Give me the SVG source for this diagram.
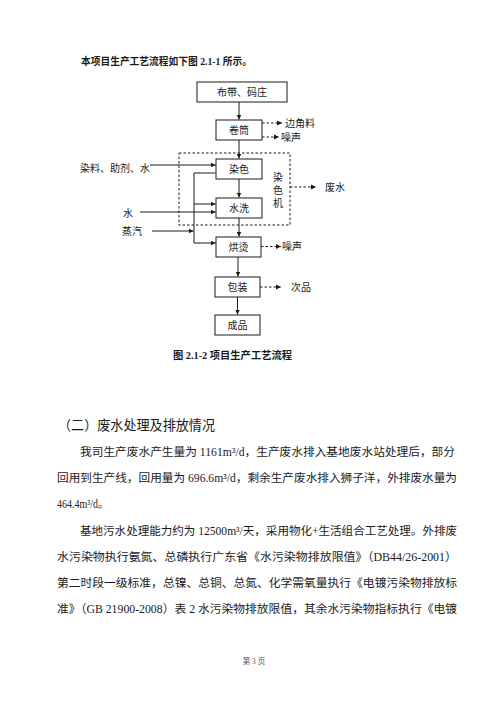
<svg xmlns="http://www.w3.org/2000/svg" width="500" height="707" viewBox="0 0 500 707">
<defs>
<marker id="ah" markerWidth="6" markerHeight="6" refX="5" refY="3" orient="auto" markerUnits="userSpaceOnUse">
<path d="M0,0.5 L5,3 L0,5.5 Z" fill="#1a1a1a"/>
</marker>
<style>
.bx{fill:#fff;stroke:#1a1a1a;stroke-width:1}
.t{font-family:"Liberation Serif","Noto Sans CJK SC",serif;fill:#1a1a1a}
.nt{font-size:10px;text-anchor:middle}
.lb{font-size:10px}
.ln{stroke:#1a1a1a;stroke-width:1;fill:none}
.da{stroke:#1a1a1a;stroke-width:1;fill:none;stroke-dasharray:2.5,2}
.body{font-family:"Liberation Serif","Noto Sans CJK SC",serif;font-size:11.6px;fill:#1a1a1a}
</style>
</defs>
<rect width="500" height="707" fill="#fff"/>

<text class="t" x="81" y="64.5" font-size="10" font-weight="bold" textLength="171" lengthAdjust="spacingAndGlyphs">本项目生产工艺流程如下图 2.1-1 所示。</text>

<g id="connectors">
<path class="ln" d="M239,102 V119.5" marker-end="url(#ah)"/>
<path class="ln" d="M239,140 V158.5" marker-end="url(#ah)"/>
<path class="ln" d="M239,179 V197.5" marker-end="url(#ah)"/>
<path class="ln" d="M239,218 V236.5" marker-end="url(#ah)"/>
<path class="ln" d="M238,257 V276.5" marker-end="url(#ah)"/>
<path class="ln" d="M237.5,297 V314.5" marker-end="url(#ah)"/>
<path class="ln" d="M150,165 H215.5" marker-end="url(#ah)"/>
<path class="ln" d="M140,212 H215.5" marker-end="url(#ah)"/>
<path class="ln" d="M152,231 H193.5" marker-end="url(#ah)"/>
<path class="ln" d="M215.5,173 H194 V243 H215.5" marker-end="url(#ah)"/>
<path class="ln" d="M194,204 H215.5" marker-end="url(#ah)"/>
<path class="da" d="M262,123 H282" marker-end="url(#ah)"/>
<path class="da" d="M262,137 H279" marker-end="url(#ah)"/>
<path class="da" d="M290,187 H316" marker-end="url(#ah)"/>
<path class="da" d="M261,246.5 H281" marker-end="url(#ah)"/>
<path class="da" d="M260,287 H281" marker-end="url(#ah)"/>
</g>

<g id="dyeing-machine">
<rect x="179" y="153" width="111" height="72" class="da"/>
<text class="t nt" x="278" y="180.5">染</text>
<text class="t nt" x="278" y="193.5">色</text>
<text class="t nt" x="278" y="206.5">机</text>
</g>

<g id="n-budai"><rect class="bx" x="197" y="82" width="90" height="20"/><text class="t nt" x="242" y="95.5">布带、码庄</text></g>
<g id="n-juantong"><rect class="bx" x="216" y="120" width="46" height="20"/><text class="t nt" x="239" y="133.5">卷筒</text></g>
<g id="n-ranse"><rect class="bx" x="216" y="159" width="46" height="20"/><text class="t nt" x="239" y="172.5">染色</text></g>
<g id="n-shuixi"><rect class="bx" x="216" y="198" width="46" height="20"/><text class="t nt" x="239" y="211.5">水洗</text></g>
<g id="n-hongtang"><rect class="bx" x="216" y="237" width="45" height="20"/><text class="t nt" x="238.5" y="250.5">烘烫</text></g>
<g id="n-baozhuang"><rect class="bx" x="215" y="277" width="45" height="20"/><text class="t nt" x="237.5" y="290.5">包装</text></g>
<g id="n-chengpin"><rect class="bx" x="215" y="315" width="45" height="20"/><text class="t nt" x="237.5" y="328.5">成品</text></g>

<g id="in-ranliao"><text class="t lb" x="150" y="172" text-anchor="end">染料、助剂、水</text></g>
<g id="in-shui"><text class="t lb" x="128" y="216.5" text-anchor="middle">水</text></g>
<g id="in-zhengqi"><text class="t lb" x="132" y="234.5" text-anchor="middle">蒸汽</text></g>
<g id="out-bianjiao"><text class="t lb" x="285" y="126.5">边角料</text></g>
<g id="out-zaosheng1"><text class="t lb" x="281" y="140.5">噪声</text></g>
<g id="out-feishui"><text class="t lb" x="325" y="190.5">废水</text></g>
<g id="out-zaosheng2"><text class="t lb" x="282" y="250">噪声</text></g>
<g id="out-cipin"><text class="t lb" x="291" y="290.5">次品</text></g>

<text class="t" x="173" y="358.5" font-size="10" font-weight="bold" textLength="119" lengthAdjust="spacingAndGlyphs">图 2.1-2  项目生产工艺流程</text>

<text x="58" y="430" font-family="'Noto Sans CJK SC','Noto Sans',sans-serif" font-size="13.5" fill="#1a1a1a" textLength="157" lengthAdjust="spacingAndGlyphs">（二）废水处理及排放情况</text>

<text class="body" x="80" y="456" textLength="375" lengthAdjust="spacingAndGlyphs">我司生产废水产生量为 1161m³/d，生产废水排入基地废水站处理后，部分</text>
<text class="body" x="57" y="482" textLength="400" lengthAdjust="spacingAndGlyphs">回用到生产线，回用量为 696.6m³/d，剩余生产废水排入狮子洋，外排废水量为</text>
<text class="body" x="57" y="508" textLength="51" lengthAdjust="spacingAndGlyphs">464.4m³/d。</text>
<text class="body" x="80" y="535" textLength="377" lengthAdjust="spacingAndGlyphs">基地污水处理能力约为 12500m³/天，采用物化+生活组合工艺处理。外排废</text>
<text class="body" x="57" y="561" textLength="400" lengthAdjust="spacingAndGlyphs">水污染物执行氨氮、总磷执行广东省《水污染物排放限值》（DB44/26-2001）</text>
<text class="body" x="57" y="587" textLength="400" lengthAdjust="spacingAndGlyphs">第二时段一级标准，总镍、总铜、总氮、化学需氧量执行《电镀污染物排放标</text>
<text class="body" x="57" y="613" textLength="400" lengthAdjust="spacingAndGlyphs">准》（GB 21900-2008）表 2 水污染物排放限值，其余水污染物指标执行《电镀</text>

<text x="254" y="663.5" font-family="'Liberation Serif','Noto Sans CJK SC',serif" font-size="7.5" fill="#555" text-anchor="middle">第 3 页</text>
</svg>
